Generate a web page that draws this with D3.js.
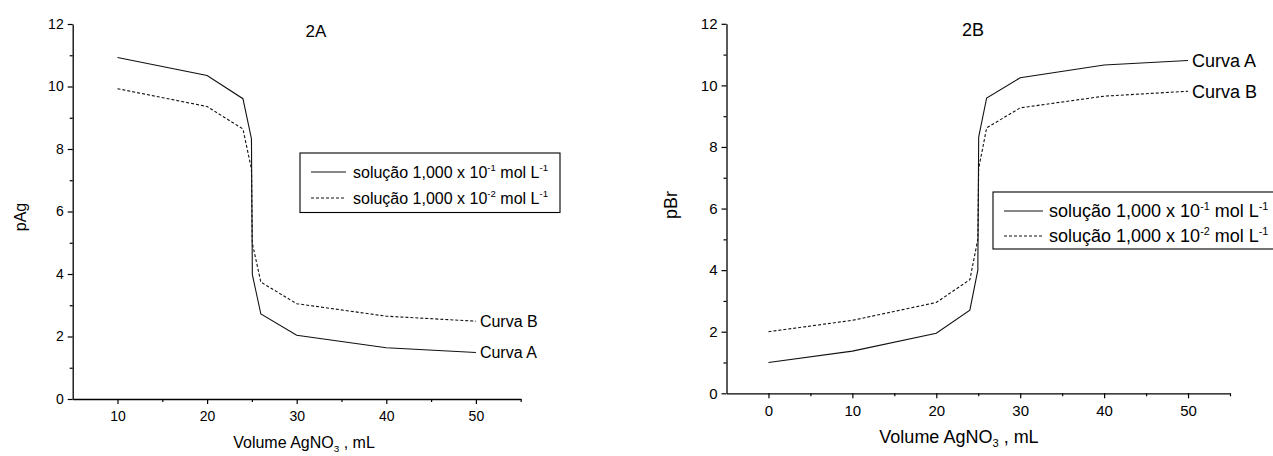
<!DOCTYPE html>
<html>
<head>
<meta charset="utf-8">
<script src="https://cdn.jsdelivr.net/npm/d3@7"></script>
<style>
  html, body { margin: 0; padding: 0; background: #fff; }
  svg { display: block; }
  text { font-family: 'Liberation Sans', Arial, Helvetica, sans-serif; fill: #000; }
</style>
</head>
<body>
<svg id="chart" width="1273" height="456"></svg>
<script>
// Titration of bromide with AgNO3: volume added (mL) and p-values
const volumeAg = [10, 20, 24, 24.95, 25, 25.05, 26, 30, 40, 50];
const pAgCurveA = [10.93, 10.35, 9.61, 8.33, 6.15, 3.98, 2.72, 2.04, 1.64, 1.49];
const pAgCurveB = [9.93, 9.36, 8.64, 7.36, 6.15, 4.98, 3.74, 3.05, 2.65, 2.49];

const volumeBr = [0, 10, 20, 24, 24.95, 25, 25.05, 26, 30, 40, 50];
const pBrCurveA = [1.00, 1.37, 1.95, 2.70, 4.00, 6.15, 8.32, 9.59, 10.25, 10.66, 10.81];
const pBrCurveB = [2.00, 2.37, 2.95, 3.69, 5.00, 6.15, 7.30, 8.62, 9.27, 9.65, 9.81];

// Axis ticks
const yMajorTicks = [0, 2, 4, 6, 8, 10, 12];
const yMinorTicks = [1, 3, 5, 7, 9, 11];
const xMajorTicksA = [10, 20, 30, 40, 50];
const xMinorTicksA = [15, 25, 35, 45, 55];
const xMajorTicksB = [0, 10, 20, 30, 40, 50];
const xMinorTicksB = [5, 15, 25, 35, 45, 55];

const seriesNames = ["solução 1,000 x 10", "solução 1,000 x 10"];
const seriesExp = ["-1", "-2"];
const curveLabels = ["Curva A", "Curva B"];

const svg = d3.select("#chart");

function drawPanel(p) {
  const g = svg.append("g");
  const x = d3.scaleLinear().domain(p.xDomain).range([p.left, p.right]);
  const y = d3.scaleLinear().domain([0, 12]).range([p.bottom, p.top]);

  // minor ticks
  g.append("g").attr("transform", `translate(0,${p.bottom})`)
    .call(d3.axisBottom(x).tickValues(p.xMinor).tickSize(3).tickFormat(""))
    .call(s => s.select(".domain").remove());
  g.append("g").attr("transform", `translate(${p.left},0)`)
    .call(d3.axisLeft(y).tickValues(yMinorTicks).tickSize(3).tickFormat(""))
    .call(s => s.select(".domain").remove());

  // major axes
  const xa = g.append("g").attr("transform", `translate(0,${p.bottom})`)
    .call(d3.axisBottom(x).tickValues(p.xMajor).tickSize(5).tickSizeOuter(0).tickPadding(7).tickFormat(d3.format("d")));
  const ya = g.append("g").attr("transform", `translate(${p.left},0)`)
    .call(d3.axisLeft(y).tickValues(yMajorTicks).tickSize(5).tickSizeOuter(0).tickPadding(4).tickFormat(d3.format("d")));
  [xa, ya].forEach(a => {
    a.selectAll("text").attr("font-size", p.tickFont).attr("font-family", null).style("fill", "#000");
    a.select(".domain").attr("stroke", "#000").attr("stroke-width", 1.3);
  });
  g.selectAll(".tick line").attr("stroke", "#000").attr("stroke-width", 1.2);

  // curves
  const line = d3.line().x(d => x(d[0])).y(d => y(d[1]));
  const dataA = p.vol.map((v, i) => [v, p.curveA[i]]);
  const dataB = p.vol.map((v, i) => [v, p.curveB[i]]);
  g.append("path").datum(dataA).attr("d", line)
    .attr("fill", "none").attr("stroke", "#111").attr("stroke-width", 1.1);
  g.append("path").datum(dataB).attr("d", line)
    .attr("fill", "none").attr("stroke", "#111").attr("stroke-width", 1.1)
    .attr("stroke-dasharray", "3,2");

  // curve end labels
  [[dataA, curveLabels[0]], [dataB, curveLabels[1]]].forEach(([d, label]) => {
    const last = d[d.length - 1];
    g.append("text").attr("x", x(last[0]) + 4).attr("y", y(last[1]))
      .attr("dy", "0.36em").attr("font-size", p.labelFont).text(label);
  });

  // panel title
  g.append("text").attr("x", p.titleX).attr("y", p.titleY)
    .attr("text-anchor", "middle").attr("font-size", p.titleFont).text(p.title);

  // axis titles
  const xt = g.append("text").attr("x", p.xTitleX).attr("y", p.xTitleY)
    .attr("text-anchor", "middle").attr("font-size", p.labelFont);
  xt.append("tspan").text("Volume AgNO");
  xt.append("tspan").attr("font-size", p.labelFont * 0.62).attr("dy", 4).text("3");
  xt.append("tspan").attr("dy", -4).text(" , mL");

  g.append("text")
    .attr("transform", `translate(${p.yTitleX},${p.yTitleY}) rotate(-90)`)
    .attr("text-anchor", "middle").attr("font-size", p.labelFont).text(p.yTitle);

  // legend
  const lg = g.append("g");
  lg.append("rect").attr("x", p.legend.x).attr("y", p.legend.y)
    .attr("width", p.legend.w).attr("height", p.legend.h)
    .attr("fill", "#fff").attr("stroke", "#000").attr("stroke-width", 1.1);
  p.legend.rows.forEach((ry, i) => {
    lg.append("line")
      .attr("x1", p.legend.lineX1).attr("x2", p.legend.lineX2)
      .attr("y1", ry).attr("y2", ry)
      .attr("stroke", "#111").attr("stroke-width", 1.1)
      .attr("stroke-dasharray", i === 1 ? "3,2" : null);
    const t = lg.append("text").attr("x", p.legend.textX).attr("y", ry)
      .attr("dy", "0.36em").attr("font-size", p.legend.font);
    const sup = p.legend.font * 0.6;
    t.append("tspan").text(seriesNames[i]);
    t.append("tspan").attr("font-size", sup).attr("dy", -p.legend.font * 0.42).text(seriesExp[i]);
    t.append("tspan").attr("dy", p.legend.font * 0.42).text(" mol L");
    t.append("tspan").attr("font-size", sup).attr("dy", -p.legend.font * 0.42).text("-1");
  });
}

drawPanel({
  xDomain: [5, 55], left: 72.7, right: 520.7, top: 24, bottom: 399,
  xMajor: xMajorTicksA, xMinor: xMinorTicksA,
  vol: volumeAg, curveA: pAgCurveA, curveB: pAgCurveB,
  tickFont: 14, labelFont: 16, titleFont: 17,
  title: "2A", titleX: 316, titleY: 37,
  xTitleX: 304, xTitleY: 448, yTitle: "pAg", yTitleX: 26, yTitleY: 217,
  legend: { x: 300, y: 153, w: 260, h: 59.5, rows: [172, 198],
            lineX1: 311, lineX2: 346, textX: 353, font: 16 }
});

drawPanel({
  xDomain: [-5, 55], left: 726.5, right: 1230, top: 23.8, bottom: 393.3,
  xMajor: xMajorTicksB, xMinor: xMinorTicksB,
  vol: volumeBr, curveA: pBrCurveA, curveB: pBrCurveB,
  tickFont: 15, labelFont: 18, titleFont: 18,
  title: "2B", titleX: 973, titleY: 36,
  xTitleX: 959, xTitleY: 443, yTitle: "pBr", yTitleX: 677, yTitleY: 205,
  legend: { x: 993, y: 192, w: 300, h: 57, rows: [211, 236],
            lineX1: 1004, lineX2: 1043, textX: 1049, font: 18 }
});
</script>
</body>
</html>
